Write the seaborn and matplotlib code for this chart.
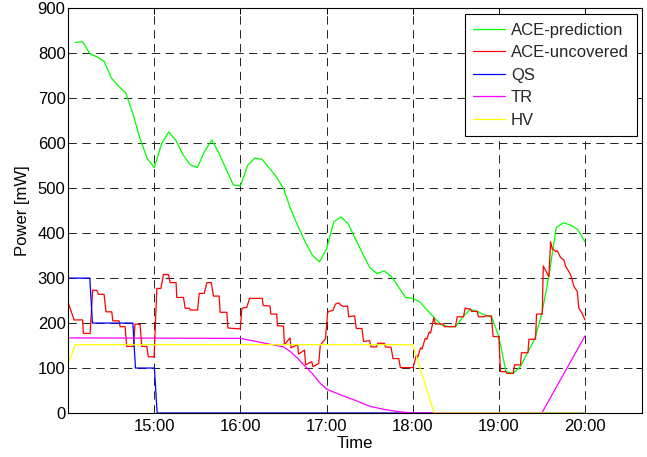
import numpy as np
import pandas as pd
import matplotlib
matplotlib.use("Agg")
import matplotlib.pyplot as plt
import seaborn as sns
from matplotlib.lines import Line2D

sns.set_theme(style="white")
plt.rcParams["font.family"] = ["Liberation Sans", "DejaVu Sans"]
plt.rcParams["lines.scale_dashes"] = False

# ---- data (minutes after 14:00, power in mW) ----
series_names = ["ACE-prediction", "ACE-uncovered", "QS", "TR", "HV"]
series_colors = ["#00ff00", "#ff0000", "#0000ff", "#ff00ff", "#ffff00"]

pred_min = np.arange(5, 361, 5)
pred_mw = [824, 826, 799, 792, 782, 745, 727, 712, 666, 610,
           566, 546, 599, 625, 606, 574, 552, 546, 582, 607,
           578, 542, 507, 505, 551, 567, 564, 545, 525, 499,
           453, 416, 381, 351, 336, 365, 425, 436, 421, 388,
           355, 324, 310, 316, 304, 281, 257, 255, 247, 229,
           212, 196, 192, 192, 214, 230, 226, 218, 214, 170,
           92, 88, 103, 134, 164, 221, 307, 412, 423, 418,
           408, 381]

unc_min = [0, 4, 10, 10.5, 15.2, 17, 19.8, 21, 24.9, 26.3,
           30.3, 31, 35.4, 36.1, 39.6, 40.7, 45.4, 46.5, 50, 51.2,
           54.7, 55.8, 59.8, 61.7, 64.5, 66.3, 69.8, 71, 75.1, 75.6,
           80.3, 81.4, 84.5, 85, 90.1, 91.2, 94.7, 96.6, 99.6, 101.2,
           105.1, 105.8, 110.5, 111.2, 119.8, 121, 124.4, 126.3, 135.2, 135.8,
           140.5, 141.2, 145.2, 145.8, 150, 150.6, 154.5, 155.2, 159.8, 160.5,
           164.6, 165.4, 169.7, 170.5, 174.5, 175.6, 179.2, 180.7, 181.4, 184.4,
           186.1, 188.4, 190, 191.4, 194.6, 195.4, 199.5, 200.7, 204.6, 205.8,
           210, 210.9, 214.7, 215.6, 220.3, 221, 224.9, 226.3, 230.3, 231.4,
           240.3, 242.5, 243.5, 245.5, 246.5, 248.7, 249.8, 251.5, 252.5, 254.7,
           255.8, 261.2, 262.1, 269.8, 271, 275.4, 276.5, 280.3, 281, 285,
           285.8, 290, 290.7, 294.7, 296.1, 300, 301.2, 304.7, 305.8, 310,
           311, 315.1, 315.8, 320.3, 321, 325.6, 326.3, 330.3, 331, 334.9,
           336.1, 337.2, 339.6, 340.7, 343, 345.4, 346.5, 349.6, 350.5, 352.3,
           354.7, 355.8, 358.2, 360]
unc_mw = [245, 207, 207, 177, 177, 273, 273, 264, 264, 225,
          225, 205, 205, 192, 192, 148, 148, 198, 197, 148,
          148, 125, 125, 277, 277, 308, 308, 290, 290, 257,
          257, 233, 233, 229, 229, 266, 266, 290, 290, 260,
          260, 224, 224, 189, 187, 233, 235, 255, 255, 239,
          238, 220, 220, 194, 193, 152, 167, 145, 152, 131,
          140, 107, 114, 103, 110, 151, 165, 222, 226, 228,
          242, 245, 240, 237, 238, 214, 216, 188, 188, 159,
          161, 147, 147, 155, 155, 147, 146, 121, 121, 101,
          101, 128, 124, 145, 142, 166, 164, 180, 178, 212,
          198, 198, 192, 192, 214, 214, 233, 231, 226, 226,
          214, 214, 216, 216, 170, 170, 92, 92, 88, 88,
          107, 107, 134, 134, 164, 164, 220, 220, 327, 303,
          381, 366, 359, 361, 346, 340, 327, 310, 303, 282,
          270, 233, 221, 207]

qs_min = [0, 15, 16.8, 45, 46.8, 60, 61.9, 360]
qs_mw = [300, 300, 200, 200, 100, 100, 0, 0]

tr_min = [0, 120, 150, 155, 160, 165, 170, 175, 180, 190, 200, 210, 220, 230, 240, 330, 360]
tr_mw = [167, 166, 147, 136, 121, 104, 88, 68, 53, 40, 28, 15, 8, 3, 0, 0, 171]

hv_min = [0, 5, 240, 255, 360]
hv_mw = [112, 152, 152, 0, 0]

hour_ticks = [15, 16, 17, 18, 19, 20]
hour_labels = ["15:00", "16:00", "17:00", "18:00", "19:00", "20:00"]
power_ticks = [0, 100, 200, 300, 400, 500, 600, 700, 800, 900]

# ---- long-form table ----
frames = []
for name, mins, vals in zip(series_names,
                            [pred_min, unc_min, qs_min, tr_min, hv_min],
                            [pred_mw, unc_mw, qs_mw, tr_mw, hv_mw]):
    frames.append(pd.DataFrame({"hour": 14 + np.asarray(mins, dtype=float) / 60,
                                "mW": vals, "series": name}))
df = pd.concat(frames, ignore_index=True)

W, H = 647, 457
fig = plt.figure(figsize=(W / 100, H / 100), dpi=100)
ax = fig.add_axes([68.3 / W, 44 / H, 574 / W, 404.7 / H])

sns.lineplot(data=df, x="hour", y="mW", hue="series", hue_order=series_names,
             palette=dict(zip(series_names, series_colors)),
             estimator=None, sort=False, linewidth=0.9, legend=False, ax=ax)

ax.set_xlim(14, 20 + 40 / 60)
ax.set_ylim(0, 900)
ax.set_xticks(hour_ticks)
ax.set_xticklabels(hour_labels)
ax.set_yticks(power_ticks)

ax.set_axisbelow(True)
ax.grid(True, color="#222222", linestyle=(0, (6, 4)), linewidth=0.7)
for sp in ax.spines.values():
    sp.set_visible(True)
    sp.set_color("black")
    sp.set_linewidth(0.8)

ax.tick_params(direction="in", length=4, width=0.7, color="black",
               top=True, right=True, labelsize=12, labelcolor="black")
ax.tick_params(axis="x", pad=4)
ax.tick_params(axis="y", pad=2)

ax.set_xlabel("Time", fontsize=12, color="black", labelpad=2)
ax.set_ylabel("Power [mW]", fontsize=12, color="black")
ax.yaxis.set_label_coords(-0.067, 0.5)

handles = [Line2D([], [], color=c, linewidth=0.9) for c in series_colors]
leg = ax.legend(handles, series_names, loc="upper right",
                bbox_to_anchor=(1 - 5 / 574, 1 - 6 / 404.7), borderaxespad=0,
                frameon=True, fancybox=False, edgecolor="black", framealpha=1,
                fontsize=12, handlelength=1.9, handletextpad=0.35,
                labelspacing=0.45, borderpad=0.5)
leg.get_frame().set_linewidth(0.8)

fig.savefig("out.png", dpi=100)
